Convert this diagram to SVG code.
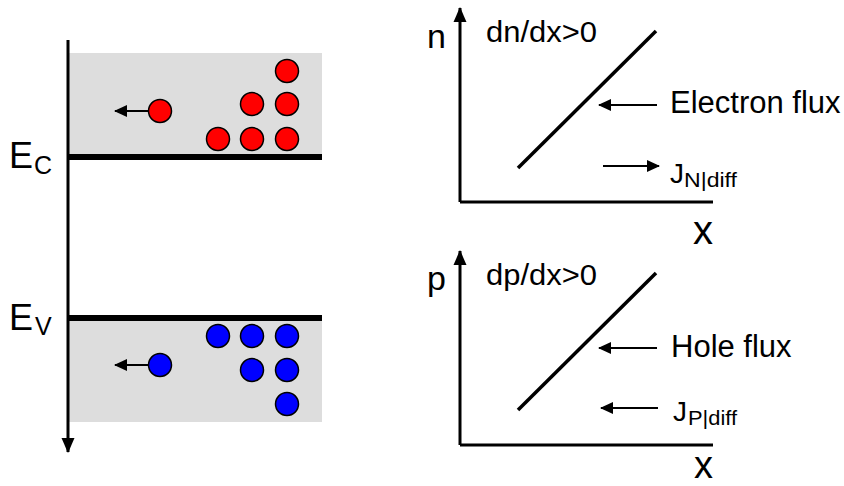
<svg xmlns="http://www.w3.org/2000/svg" width="844" height="486" viewBox="0 0 844 486">
<style>
text{font-family:"Liberation Sans",Arial,sans-serif;fill:#000}
.band{fill:#dddddd}
.lvl{stroke:#000;stroke-width:6}
.ax{stroke:#000;stroke-width:3;fill:none}
.ln{stroke:#000;stroke-width:3.5;fill:none}
.ar{stroke:#000;stroke-width:2;fill:none}
.e{fill:#ff0000;stroke:#000;stroke-width:1.5}
.h{fill:#0000ff;stroke:#000;stroke-width:1.5}
</style>
<defs>
<marker id="ah" markerWidth="14" markerHeight="14" refX="12" refY="6" orient="auto" markerUnits="userSpaceOnUse" viewBox="0 0 14 12">
<path d="M0,0 L13,6 L0,12 Z" fill="#000"/>
</marker>
<marker id="axh" markerWidth="16" markerHeight="14" refX="14" refY="6.5" orient="auto" markerUnits="userSpaceOnUse" viewBox="0 0 16 13">
<path d="M0,0 L15,6.5 L0,13 Z" fill="#000"/>
</marker>
</defs>
<g id="bands">
<rect class="band" x="68" y="53" width="254" height="104"/>
<rect class="band" x="68" y="318" width="254" height="104"/>
<line class="lvl" x1="68" y1="157" x2="322" y2="157"/>
<line class="lvl" x1="68" y1="318" x2="322" y2="318"/>
</g>
<g id="energy-axis">
<line class="ax" x1="68" y1="40" x2="68" y2="452" marker-end="url(#axh)"/>
</g>
<g id="label-ec"><text x="9" y="168" font-size="36">E</text><text x="34" y="174" font-size="25">C</text></g>
<g id="label-ev"><text x="9" y="330" font-size="36">E</text><text x="35" y="335" font-size="25">V</text></g>
<g id="electrons">
<circle class="e" cx="287" cy="71" r="11.5"/>
<circle class="e" cx="252" cy="104" r="11.5"/>
<circle class="e" cx="287" cy="104" r="11.5"/>
<circle class="e" cx="218" cy="139" r="11.5"/>
<circle class="e" cx="252" cy="139" r="11.5"/>
<circle class="e" cx="287" cy="139" r="11.5"/>
<circle class="e" cx="160" cy="111" r="11.5"/>
</g>
<g id="holes">
<circle class="h" cx="218" cy="336" r="11.5"/>
<circle class="h" cx="252" cy="336" r="11.5"/>
<circle class="h" cx="287" cy="336" r="11.5"/>
<circle class="h" cx="252" cy="370" r="11.5"/>
<circle class="h" cx="287" cy="370" r="11.5"/>
<circle class="h" cx="287" cy="404" r="11.5"/>
<circle class="h" cx="160" cy="365" r="11.5"/>
</g>
<g id="connectors">
<line class="ar" x1="148" y1="111" x2="115" y2="111" marker-end="url(#ah)"/>
<line class="ar" x1="148" y1="365" x2="115" y2="365" marker-end="url(#ah)"/>
<line class="ar" x1="657" y1="105" x2="599" y2="105" marker-end="url(#ah)"/>
<line class="ar" x1="603" y1="166" x2="659" y2="166" marker-end="url(#ah)"/>
<line class="ar" x1="657" y1="348" x2="599" y2="348" marker-end="url(#ah)"/>
<line class="ar" x1="658" y1="408" x2="601" y2="408" marker-end="url(#ah)"/>
</g>
<g id="graph-n">
<polyline class="ax" points="460,202 460,8" marker-end="url(#axh)"/>
<line class="ax" x1="460" y1="202" x2="713" y2="202"/>
<line class="ln" x1="518" y1="168" x2="656" y2="31"/>
<text x="427" y="48" font-size="34">n</text>
<text x="486" y="42" font-size="29" textLength="111" lengthAdjust="spacingAndGlyphs">dn/dx&gt;0</text>
<text x="670" y="113" font-size="31">Electron flux</text>
<text x="670" y="183" font-size="28">J</text>
<text x="684" y="187" font-size="21" textLength="53" lengthAdjust="spacingAndGlyphs">N|diff</text>
<text x="693" y="244" font-size="40">x</text>
</g>
<g id="graph-p">
<polyline class="ax" points="460,445 460,251" marker-end="url(#axh)"/>
<line class="ax" x1="460" y1="445" x2="713" y2="445"/>
<line class="ln" x1="518" y1="410" x2="656" y2="273"/>
<text x="427" y="290" font-size="34">p</text>
<text x="486" y="285" font-size="29" textLength="111" lengthAdjust="spacingAndGlyphs">dp/dx&gt;0</text>
<text x="671" y="357" font-size="31">Hole flux</text>
<text x="673" y="421" font-size="28">J</text>
<text x="688" y="425" font-size="21" textLength="49" lengthAdjust="spacingAndGlyphs">P|diff</text>
<text x="694" y="478" font-size="38">x</text>
</g>
</svg>
